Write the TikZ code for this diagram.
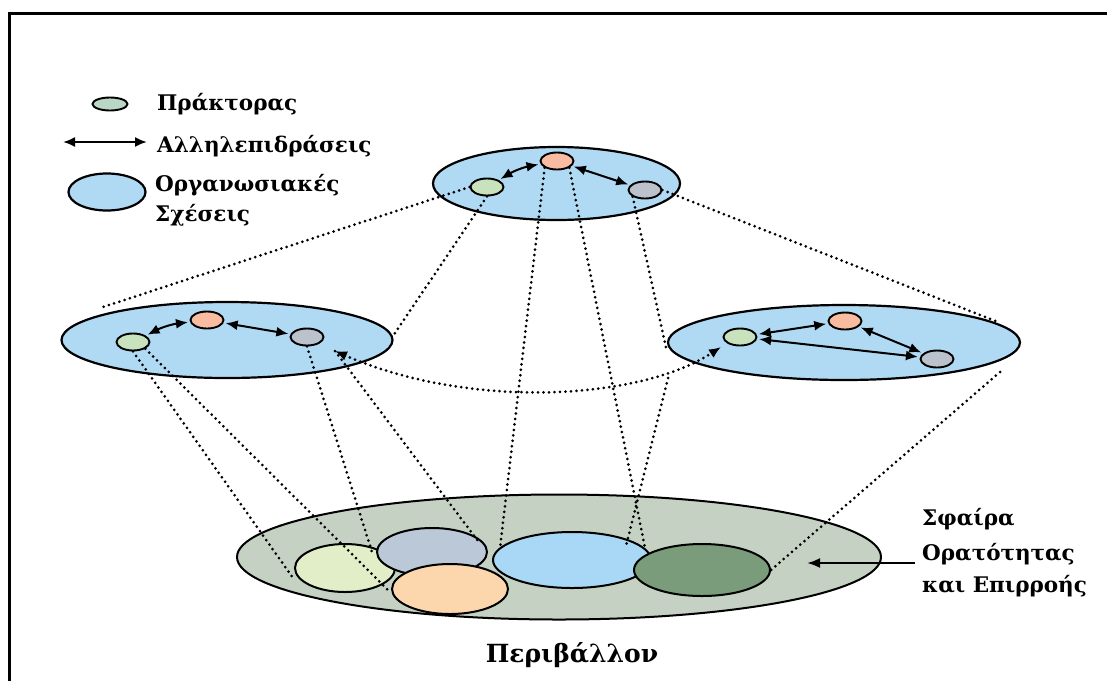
\documentclass[tikz,border=0pt]{standalone}
\usepackage{fontspec}
\setmainfont{DejaVu Serif}
\usetikzlibrary{arrows.meta,shapes.geometric}
\definecolor{orgblue}{RGB}{176,218,243}
\definecolor{agreen}{RGB}{200,226,190}
\definecolor{aorange}{RGB}{250,188,160}
\definecolor{agrey}{RGB}{188,194,204}
\definecolor{envgrey}{RGB}{197,210,195}
\definecolor{eone}{RGB}{226,238,200}
\definecolor{etwo}{RGB}{186,200,215}
\definecolor{ethree}{RGB}{252,214,172}
\definecolor{efour}{RGB}{168,216,245}
\definecolor{efive}{RGB}{122,156,122}
\definecolor{legag}{RGB}{186,214,196}
\tikzset{
  orgell/.style={ellipse, draw, line width=2.2pt, fill=orgblue, inner sep=0pt},
  agent/.style={ellipse, draw, line width=1.9pt, minimum width=33pt, minimum height=17pt, inner sep=0pt},
  envell/.style={ellipse, draw, line width=2pt, inner sep=0pt},
  tip/.style={Latex[length=12pt,width=10pt]},
  inter/.style={{Latex[length=12pt,width=10pt]}-{Latex[length=12pt,width=10pt]}, line width=2pt, shorten <=2pt, shorten >=2pt},
  proj/.style={line width=3pt, dash pattern=on 0pt off 5.5pt, line cap=round},
  projarr/.style={line width=3pt, dash pattern=on 0pt off 5.5pt, line cap=round, {Latex[length=12pt,width=10pt]}-{Latex[length=12pt,width=10pt]}},
  lbl/.style={font=\bfseries\fontsize{21.5}{24}\selectfont, inner sep=0pt, anchor=base west},
}
\begin{document}
\begin{tikzpicture}[x=1pt,y=-1pt]
\useasboundingbox (0,0) rectangle (1107,681);
\fill[white] (0,0) rectangle (1107,681);
\draw[line width=3pt] (9,681) -- (9,13) -- (1107,13);

% legend
\node[agent, fill=legag, minimum width=35pt, minimum height=13pt] (legA) at (110,104) {};
\coordinate (legL) at (63,142);
\coordinate (legR) at (147,142);
\draw[{Latex[length=12pt,width=10pt]}-{Latex[length=12pt,width=10pt]}, line width=2pt] (legL) -- (legR);
\node[orgell, minimum width=77pt, minimum height=37pt] (legO) at (107,192) {};
\node[lbl] (t1) at (157,110) {Πράκτορας};
\node[lbl] (t2) at (157,152) {Αλληλεπιδράσεις};
\node[lbl] (t3) at (155,191) {Οργανωσιακές};
\node[lbl] (t4) at (155,221) {Σχέσεις};

% environment
\node[envell, fill=envgrey, minimum width=644pt, minimum height=125pt] (B) at (559,557) {};
\node[envell, fill=eone, minimum width=100pt, minimum height=48pt] (i1) at (345,568) {};
\node[envell, fill=etwo, minimum width=110pt, minimum height=48pt] (i2) at (432,552) {};
\node[envell, fill=efour, minimum width=158pt, minimum height=56pt] (i4) at (572,560) {};
\node[envell, fill=ethree, minimum width=116pt, minimum height=50pt] (i3) at (450,589) {};
\node[envell, fill=efive, minimum width=136pt, minimum height=52pt] (i5) at (702,570) {};

% organisations
\node[orgell, minimum width=247pt, minimum height=73pt] (T) at (556.5,183.5) {};
\node[orgell, minimum width=331pt, minimum height=76pt] (L) at (227,340) {};
\node[orgell, minimum width=352pt, minimum height=75pt] (R) at (844,342.5) {};

% agents
\node[agent, fill=agreen] (tg) at (487,187) {};
\node[agent, fill=aorange] (to) at (557,161) {};
\node[agent, fill=agrey] (tr) at (645,190) {};
\node[agent, fill=agreen] (lg) at (133,342) {};
\node[agent, fill=aorange] (lo) at (207,320) {};
\node[agent, fill=agrey] (lr) at (307,337) {};
\node[agent, fill=agreen] (rg) at (740,337) {};
\node[agent, fill=aorange] (ro) at (845,321) {};
\node[agent, fill=agrey] (rr) at (937,359) {};

% interactions
\draw[inter] (tg) to[bend left=10] (to);
\draw[inter] (to) -- (tr);
\draw[inter] (lg) to[bend left=10] (lo);
\draw[inter] (lo) -- (lr);
\draw[inter] (rg) -- (ro);
\draw[inter] (ro) -- (rr);
\draw[inter] (rg) -- (rr);

% projection lines
\coordinate (pL1) at (103,307);
\coordinate (pL2) at (393,336);
\coordinate (pR1) at (998,322);
\coordinate (pR2) at (667,352);
\coordinate (pR3) at (668,378);
\coordinate (pR4) at (1000,372);
\coordinate (q1) at (293,578);
\coordinate (q2) at (388,590);
\coordinate (q3) at (372,552);
\coordinate (q4) at (478,541);
\coordinate (q5) at (500,548);
\coordinate (q6) at (645,548);
\coordinate (q7) at (626,546);
\coordinate (q8) at (771,570);
\draw[proj] (tg.west) -- (pL1);
\draw[proj] (tg.south) -- (pL2);
\draw[proj] (tr.east) -- (pR1);
\draw[proj] (tr.south west) -- (pR2);
\draw[proj] (to.south west) -- (q5);
\draw[proj] (to.south east) -- (q6);
\draw[proj] (pR3) -- (q7);
\draw[proj] (pR4) -- (q8);
\draw[proj] (lg.south) -- (q1);
\draw[proj] (lg.south east) -- (q2);
\draw[proj] (lr.south) -- (q3);
\coordinate (lrx) at (335,351);
\coordinate (rgx) at (721,347);
\draw[proj] (lrx) -- (q4);
\draw[projarr] (lrx) .. controls (470,410) and (640,400) .. (rgx);

% sphere label
\coordinate (arrS) at (915,563);
\coordinate (arrE) at (807,563);
\draw[-{Latex[length=13pt,width=10pt]}, line width=2.2pt] (arrS) -- (arrE);
\node[lbl] (s1) at (922,525) {Σφαίρα};
\node[lbl] (s2) at (922,560) {Ορατότητας};
\node[lbl] (s3) at (922,592) {και Επιρροής};
\node[font=\bfseries\fontsize{25}{30}\selectfont, inner sep=0pt, anchor=base] (env) at (572,662) {Περιβάλλον};
\end{tikzpicture}
\end{document}
